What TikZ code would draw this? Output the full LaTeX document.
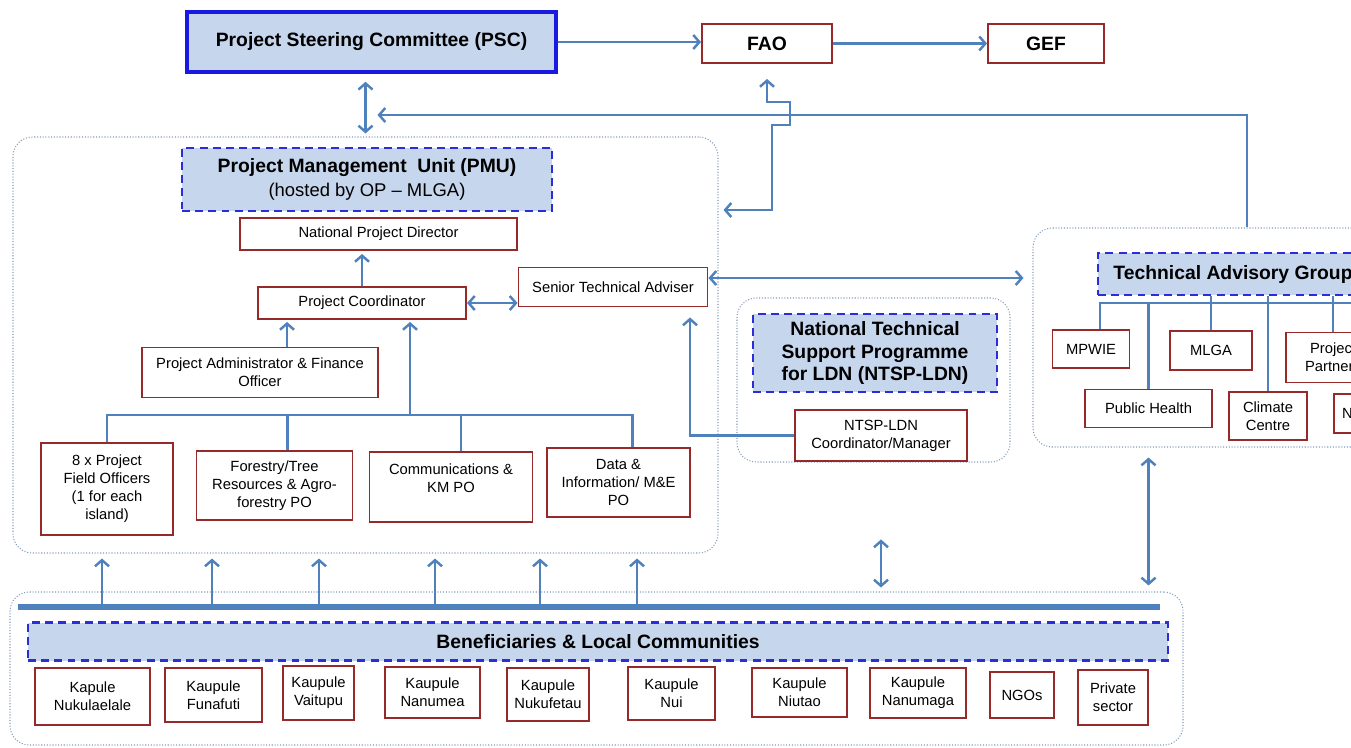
\documentclass[tikz,border=0pt]{standalone}
\usepackage{fontspec}
\setmainfont{Liberation Sans}
\usetikzlibrary{arrows.meta,positioning,calc}
\definecolor{linkBlue}{RGB}{79,129,189}
\definecolor{boxRed}{RGB}{150,42,42}
\definecolor{hdrFill}{RGB}{198,214,237}
\definecolor{dashBlue}{RGB}{45,45,215}
\definecolor{pscBlue}{RGB}{25,25,225}
\definecolor{areaGray}{RGB}{135,155,185}
\tikzset{
  sz/.style 2 args = {minimum width={#1*0.02cm}, minimum height={#2*0.02cm}},
  orgBox/.style  = {rectangle, draw=boxRed, line width=1.1pt, fill=white,
                    align=center, inner sep=1pt,
                    font=\fontsize{8.4}{10.2}\selectfont},
  hdrBox/.style  = {rectangle, draw=dashBlue, dash pattern=on 4.5pt off 3pt,
                    line width=1.3pt, fill=hdrFill, align=center, inner sep=1pt,
                    font=\fontsize{11}{12.8}\selectfont\bfseries},
  areaBox/.style = {rectangle, rounded corners=11pt, draw=areaGray,
                    densely dotted, line width=0.6pt},
  link/.style    = {draw=linkBlue, line width=1.4pt},
  oneWay/.style  = {link, -{Straight Barb[length=3.5pt,width=8pt]}},
  twoWay/.style  = {link, {Straight Barb[length=3.5pt,width=8pt]}-{Straight Barb[length=3.5pt,width=8pt]}},
}
\begin{document}
\begin{tikzpicture}[x=0.02cm,y=-0.02cm]
  \useasboundingbox (0,0) rectangle (1351,747);
  \clip (0,0) rectangle (1351,747);
  % groups
  \node[areaBox,sz={705}{416}](pmuarea) at (365.5,345){};
  \node[areaBox,sz={273}{164}](ntsparea) at (873.5,380){};
  \node[areaBox,sz={428}{219}](tagarea) at (1247,337.5){};
  \node[areaBox,sz={1173}{153}](benarea) at (596.5,668.5){};
  % top
  \node[hdrBox,draw=pscBlue,solid,line width=2pt,sz={369}{60}](psc) at (371.5,42){Project Steering Committee (PSC)};
  \node[orgBox,sz={130}{39},font=\fontsize{11}{12.8}\selectfont\bfseries](fao) at (767,43.5){FAO};
  \node[orgBox,sz={116}{39},font=\fontsize{11}{12.8}\selectfont\bfseries](gef) at (1046,43.5){GEF};
  % PMU
  \node[hdrBox,sz={370}{63}](pmu) at (367,179.5){Project Management\ \ Unit (PMU)\\[1pt]
      {\mdseries\fontsize{10.5}{12.8}\selectfont(hosted by OP -- MLGA)}};
  \node[orgBox,sz={277}{32}](npd) at (378.5,234){National Project Director};
  \node[orgBox,sz={208}{32}](pc) at (362,303){Project Coordinator};
  \node[orgBox,sz={189}{39}](sta) at (613,287){Senior Technical Adviser};
  \node[orgBox,sz={236}{50}](pafo) at (260,372.5){Project Administrator \& Finance\\Officer};
  \node[orgBox,sz={132}{92}](pfo) at (107,489){8 x Project\\Field Officers\\(1 for each\\island)};
  \node[orgBox,sz={156}{69}](forestry) at (274.5,485.5){Forestry/Tree\\Resources \& Agro-\\forestry PO};
  \node[orgBox,sz={163}{70}](comm) at (451,487){Communications \&\\KM PO\\ };
  \node[orgBox,sz={143}{69}](data) at (618.5,482.5){Data \&\\Information/ M\&E\\PO};
  % NTSP
  \node[hdrBox,sz={244}{78}](ntsp) at (875,353){National Technical\\Support Programme\\for LDN (NTSP-LDN)};
  \node[orgBox,sz={172}{51}](ntspc) at (881,435.5){NTSP-LDN\\Coordinator/Manager};
  % TAG
  \node[hdrBox,sz={270}{42}](tag) at (1233,274){Technical Advisory Group};
  \node[orgBox,sz={77}{38}](mpwie) at (1091,349){MPWIE};
  \node[orgBox,sz={127}{38}](publichealth) at (1148.5,408.5){Public Health};
  \node[orgBox,sz={82}{39}](mlga) at (1211,350.5){MLGA};
  \node[orgBox,sz={78}{48}](climate) at (1268,416){Climate\\Centre};
  \node[orgBox,sz={94}{50}](partners) at (1333,357.5){Project\\Partners};
  \node[orgBox,sz={86}{39},text width=1.4cm,align=left](taglast) at (1377,413.5){N};
  % beneficiaries
  \node[hdrBox,sz={1140}{38}](ben) at (598,641.5){Beneficiaries \& Local Communities};
  \node[orgBox,sz={115}{57}](kapnuk) at (92.5,696.5){Kapule\\Nukulaelale};
  \node[orgBox,sz={97}{54}](kapfun) at (213.5,695){Kaupule\\Funafuti};
  \node[orgBox,sz={71}{54}](kapvai) at (318.5,693){Kaupule\\Vaitupu};
  \node[orgBox,sz={95}{51}](kapnan) at (432.5,692.5){Kaupule\\Nanumea};
  \node[orgBox,sz={82}{53}](kapnkf) at (548,694.5){Kaupule\\Nukufetau};
  \node[orgBox,sz={87}{53}](kapnui) at (671.5,693.5){Kaupule\\Nui};
  \node[orgBox,sz={95}{49}](kapniu) at (799.5,692.5){Kaupule\\Niutao};
  \node[orgBox,sz={96}{50}](kapnmg) at (918,693){Kaupule\\Nanumaga};
  \node[orgBox,sz={64}{46}](ngos) at (1022,695){NGOs};
  \node[orgBox,sz={70}{55}](private) at (1113,697.5){Private\\sector};
  % links
  \draw[oneWay](psc.east)--(psc.east-|fao.west);
  \draw[oneWay](fao)--(gef);
  \draw[twoWay]($(pmuarea.north|-psc.south)+(0,8)$)--($(pmuarea.north)+(0,-3)$);
  \draw[oneWay](tagarea.north)|-($(pmuarea.north|-0,115)+(12,0)$);
  \draw[twoWay]($(pmuarea.east|-0,210)+(5,0)$)-|(772,125)-|(790,102)-|($(fao.south)+(0,15)$);
  \draw[oneWay](pc.north)--($(pc.north|-npd.south)+(0,3)$);
  \draw[oneWay]($(pafo.north)+(27,0)$)--($(pc.south-|pafo.north)+(27,2)$);
  \draw[twoWay](pc.east)--(pc.east-|sta.west);
  \coordinate(staR) at ($(sta.east)+(0,-9)$);
  \draw[twoWay,shorten >=0.18cm](staR)--(staR-|tagarea.west);
  \draw[oneWay](ntspc.west)-|($(sta.south)+(77,10)$);
  % staff bus
  \coordinate(staffBus) at (410,415);
  \draw[oneWay](staffBus)--($(staffBus|-pc.south)+(0,2)$);
  \draw[link](pfo.north)|-($(data.north|-staffBus)+(14,0)$)--($(data.north)+(14,0)$);
  \foreach \n/\dx in {forestry/13,comm/10}{\draw[link]($(\n.north)+(\dx,0)$)--($(\n.north|-staffBus)+(\dx,0)$);}
  % TAG members
  \coordinate(tagBus) at (1100,303);
  \draw[link]($(mpwie.north)+(9,0)$)|-(tagBus)-|(taglast.north);
  \draw[link](publichealth.north)--(publichealth.north|-tagBus);
  \foreach \n in {mlga,climate,partners}{\draw[link](\n.north)--(\n.north|-tag.south);}
  % beneficiaries
  \coordinate(benBusL) at (18,607);
  \coordinate(benBusR) at (1160,607);
  \draw[link,line width=3.2pt](benBusL)--(benBusR);
  \foreach \x in {102,212,319,435,540,637}{\draw[oneWay](benBusL-|\x,0)--($(pmuarea.south-|\x,0)+(0,5)$);}
  \draw[twoWay]($(ntspc.south|-benarea.north)+(0,-52)$)--($(ntspc.south|-benarea.north)+(0,-4)$);
  \draw[twoWay]($(publichealth.south|-tagarea.south)+(0,10)$)--($(publichealth.south|-benarea.north)+(0,-6)$);
\end{tikzpicture}
\end{document}
